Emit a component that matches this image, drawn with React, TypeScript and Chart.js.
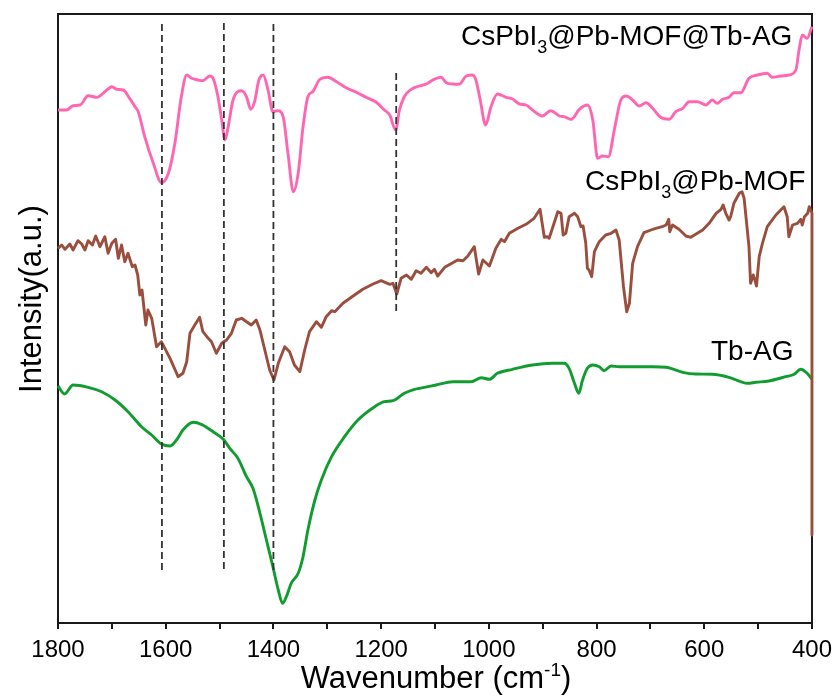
import React, { useEffect, useRef } from "react";
import { Chart, registerables } from "chart.js";

Chart.register(...registerables);

// ---------- data (wavenumber in cm^-1, intensity in arbitrary units) ----------
const pinkWn = [1800,1784,1772,1759,1744,1728,1713,1700,1691,1679,1667,1657,1651,1639,1623,1608,1595,1583,1571,1561,1552,1540,1531,1518,1512,1503,1496,1490,1484,1475,1459,1450,1442,1435,1427,1419,1410,1401,1392,1382,1373,1363,1354,1345,1336,1327,1314,1299,1283,1265,1246,1228,1209,1194,1184,1173,1166,1157,1144,1129,1116,1104,1089,1079,1067,1055,1042,1030,1024,1016,1006,996,984,968,956,943,931,919,901,885,869,860,847,832,817,807,798,789,778,767,755,745,733,721,708,696,681,665,653,640,628,613,597,585,576,566,554,545,532,517,501,483,474,458,443,430,424,418,409,400];
const pinkVal = [513,513,517.3,518,527.3,525.7,531.3,536.3,533.7,533,524.7,516.3,511.3,486.3,459.7,440.3,449.7,479.7,526.3,548,544.7,543,542.3,547,544.7,526.3,503,483,496.3,523,532.3,526.3,513.7,521.3,543,548,533,511.3,512.3,506.3,469.7,431.3,449.7,496.3,526.3,531.3,543.5,545.7,541.3,535.3,530.7,525.7,520.7,513,508,493,513,526.3,533.7,537,539,543,545.7,540.3,539,538.7,547,548,543,523,498,516.3,529,525.7,524,519,518,513,507,512.3,507,506.3,503.7,513.7,518,503,464.7,467,466.3,493,523,527,523,517,520.3,514.7,505.7,503.7,511.3,514.7,521.3,521.3,518,523,519.7,523.7,525.7,530.3,530.3,544.7,548,549.7,545.7,547,548,553,573,588,584.7,596.3];

const brownWn = [1800,1793,1787,1778,1772,1763,1756,1750,1744,1736,1730,1722,1713,1707,1700,1693,1688,1682,1676,1670,1662,1657,1652,1648,1644,1637,1633,1626,1617,1608,1592,1577,1568,1561,1555,1546,1537,1531,1521,1515,1506,1496,1487,1478,1469,1459,1450,1441,1432,1425,1416,1407,1399,1391,1379,1370,1361,1351,1342,1333,1320,1311,1302,1292,1286,1271,1252,1234,1215,1200,1184,1178,1171,1163,1153,1144,1135,1126,1116,1107,1101,1095,1082,1067,1058,1048,1039,1027,1019,1011,999,987,977,971,962,946,931,916,905,897,891,888,878,872,866,862,857,851,841,835,829,825,820,817,814,809,804,795,783,773,764,758,750,744,739,733,724,712,699,690,678,671,666,664,659,647,634,625,613,603,591,578,569,565,560,554,551,545,535,530,526,517,514,509,506,503,498,492,483,467,458,452,446,443,436,427,421,418,414,408,405,400,400];
const brownVal = [374.7,378,373.7,379,373,382.3,379,373,382.3,378,387,376.3,386.3,369.7,379.7,383.7,364.7,378,361.3,369.7,356.3,358,348,328,333,298,313,304.7,276.3,281.3,264.7,246.3,249.7,261.3,289.7,298,305.7,291.3,284.7,281.3,269.7,279.7,283,289.7,303,304.7,301.3,298,303,293,273,253,243,259.7,276.3,271.3,258,251.3,273,291.3,301.3,295.7,306.3,312.3,311.3,319.7,327,333.7,339,342.3,338.7,339.7,329,344.7,348,343.7,352.3,349.7,355.7,350.3,353.7,347,355.7,360.3,363,362.3,367,376.3,349,363,357,374.7,383.7,381.3,389.7,394.7,398.7,404.7,413.7,385.7,386.3,384.7,401.3,411.3,409.7,388,389.7,406.3,409.7,406.3,396.3,397,379.7,354.7,353,346.3,371.3,381.3,388,389.7,393,383,336.3,311.3,319.7,359.7,376.3,390.3,393,394.7,396.3,398,403.7,391.3,398,393.7,387,385.7,389.7,393,399.7,409.7,413.7,418,409.7,403,406.3,419.7,429.7,431.3,424.7,376.3,339.7,348,343,337,366.3,379.7,396.3,408,413,416.3,406.3,386.3,398,399.7,403.7,398,406.3,409.7,416.3,409.7,88];

const greenWn = [1800,1788,1772,1744,1719,1694,1670,1645,1626,1608,1592,1580,1568,1549,1534,1512,1493,1481,1466,1450,1438,1425,1413,1401,1391,1383,1376,1367,1354,1345,1336,1323,1311,1292,1268,1243,1212,1194,1178,1157,1138,1129,1098,1067,1033,1014,999,984,956,919,882,860,851,841,833,826,817,807,795,786,773,758,727,696,671,640,616,585,554,520,504,480,449,433,421,409,400];
const greenVal = [237,229,238,235.7,231.3,223,211.3,196.3,188,179,177,183,193,200.7,198.7,191.3,183.7,174.7,164.7,146.3,134.7,109.7,83,56.3,33,19.7,26.3,39.7,49.7,66.3,93,123,143,166.3,186.3,203,216.3,221.3,222.3,229.7,233.7,234.7,238,241.3,241.3,245.3,243.7,249.7,253.7,258,259.7,259.7,254.7,239.7,229.7,243,254.7,258,256.3,252.3,257,256.3,256.3,256.3,255.7,250.7,249,248.7,245.7,239.7,240.7,242,246.3,248.7,253.7,249.7,243.7];

// reference (dashed) lines
const dashWn = [1607, 1492, 1400, 1172];
const dashTop = [599, 600, 599, 550];
const dashBottom = [52, 53, 52, 310];

// axis
const xMin = 400;
const xMax = 1800;
const xStep = 100;
const xLabelStep = 200;
const yMin = 0;
const yMax = 609;

const seriesColors = ["#FF66B2", "#9A4E3E", "#119C30"];
const FONT = '"Liberation Sans", Arial, Helvetica, sans-serif';

type Seg = { t: string; size: number; dy?: number };

const labelTop: Seg[] = [{ t: "CsPbI", size: 28 }, { t: "3", size: 18, dy: 8 }, { t: "@Pb-MOF@Tb-AG", size: 28 }];
const labelMid: Seg[] = [{ t: "CsPbI", size: 28 }, { t: "3", size: 18, dy: 8 }, { t: "@Pb-MOF", size: 28 }];
const labelLow: Seg[] = [{ t: "Tb-AG", size: 28 }];
const xTitle: Seg[] = [{ t: "Wavenumber (cm", size: 31 }, { t: "-1", size: 19, dy: -12 }, { t: ")", size: 31 }];
const yTitle: Seg[] = [{ t: "Intensity(a.u.)", size: 31 }];

function drawRich(ctx: CanvasRenderingContext2D, x: number, y: number, segs: Seg[], align: "left" | "center" | "right") {
  let total = 0;
  const widths = segs.map((s) => {
    ctx.font = `${s.size}px ${FONT}`;
    const w = ctx.measureText(s.t).width;
    total += w;
    return w;
  });
  let cx = align === "center" ? x - total / 2 : align === "right" ? x - total : x;
  ctx.textAlign = "left";
  ctx.textBaseline = "alphabetic";
  segs.forEach((s, i) => {
    ctx.font = `${s.size}px ${FONT}`;
    ctx.fillText(s.t, cx, y + (s.dy || 0));
    cx += widths[i];
  });
}

const framePlugin = {
  id: "frame",
  beforeDatasetsDraw(chart: any) {
    const { ctx, chartArea } = chart;
    ctx.save();
    ctx.strokeStyle = "#1a1a1a";
    ctx.lineWidth = 2;
    ctx.strokeRect(chartArea.left, chartArea.top, chartArea.right - chartArea.left, chartArea.bottom - chartArea.top);
    ctx.restore();
  },
  afterDraw(chart: any) {
    const { ctx } = chart;
    ctx.save();
    ctx.fillStyle = "#000";
    drawRich(ctx, 461, 45, labelTop, "left");
    drawRich(ctx, 585, 190, labelMid, "left");
    drawRich(ctx, 711, 360, labelLow, "left");
    drawRich(ctx, 436, 688, xTitle, "center");
    ctx.translate(41, 299);
    ctx.rotate(-Math.PI / 2);
    drawRich(ctx, 0, 0, yTitle, "center");
    ctx.restore();
  },
};

export default function App() {
  const ref = useRef<HTMLCanvasElement | null>(null);
  useEffect(() => {
    if (!ref.current) return;
    const mk = (wn: number[], v: number[]) => wn.map((x, i) => ({ x, y: v[i] }));
    const curves = [
      { wn: pinkWn, v: pinkVal, smooth: true },
      { wn: brownWn, v: brownVal, smooth: false },
      { wn: greenWn, v: greenVal, smooth: true },
    ].map((s, i) => ({
      data: mk(s.wn, s.v),
      borderColor: seriesColors[i],
      borderWidth: 2.9,
      pointRadius: 0,
      fill: false,
      tension: s.smooth ? 0.4 : 0,
      cubicInterpolationMode: s.smooth ? ("monotone" as const) : ("default" as const),
      borderJoinStyle: "round" as const,
      clip: 6,
      order: i + 1,
    }));
    const dashes = dashWn.map((x, i) => ({
      data: [
        { x, y: dashTop[i] },
        { x, y: dashBottom[i] },
      ],
      borderColor: "#333",
      borderWidth: 1.8,
      borderDash: [7, 4],
      pointRadius: 0,
      fill: false,
      order: 0,
    }));
    const chart = new Chart(ref.current, {
      type: "line",
      data: { datasets: [...dashes, ...curves] as any },
      options: {
        animation: false,
        responsive: false,
        devicePixelRatio: 1,
        layout: { padding: { left: 58, top: 14, right: 26, bottom: 0 } },
        plugins: { legend: { display: false }, tooltip: { enabled: false } },
        scales: {
          x: {
            type: "linear",
            reverse: true,
            min: xMin,
            max: xMax,
            border: { display: false },
            grid: { display: true, drawOnChartArea: false, drawTicks: true, tickLength: 6, color: "#1a1a1a", lineWidth: 2 },
            ticks: {
              stepSize: xStep,
              autoSkip: false,
              maxRotation: 0,
              padding: 7,
              color: "#000",
              font: { family: FONT, size: 24 },
              callback: (v: any) => (Number(v) % xLabelStep === 0 ? String(v) : ""),
            },
            afterFit: (scale: any) => {
              scale.height = 75;
            },
          },
          y: { type: "linear", display: false, min: yMin, max: yMax },
        },
      },
      plugins: [framePlugin],
    });
    return () => chart.destroy();
  }, []);
  return (
    <div style={{ position: "fixed", left: 0, top: 0, width: 839, height: 698, background: "#fff" }}>
      <canvas ref={ref} width={839} height={698} />
    </div>
  );
}
